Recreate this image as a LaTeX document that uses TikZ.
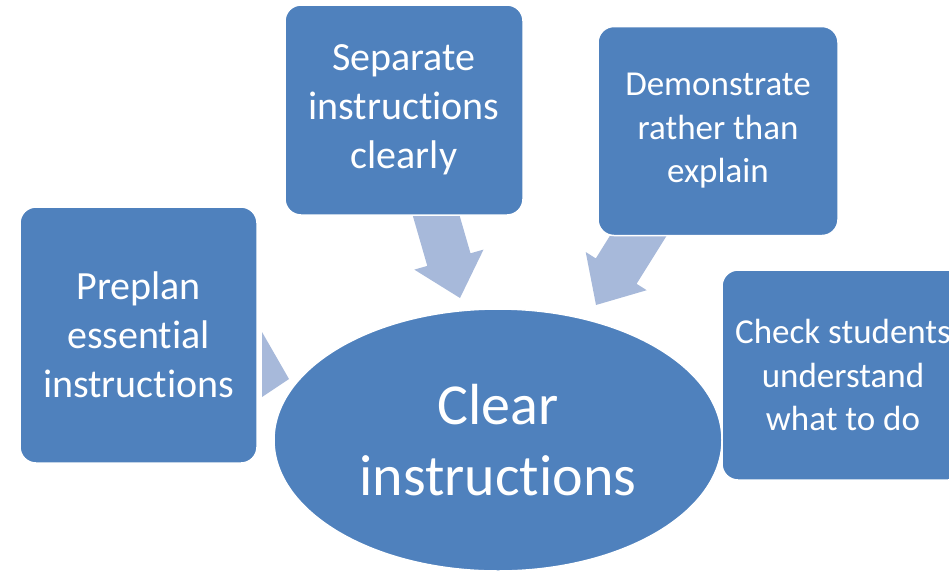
\documentclass[tikz,border=0pt]{standalone}
\usepackage{fontspec}
\setmainfont{Carlito}[Ligatures=NoCommon]
\usepackage{tikz}
\usetikzlibrary{shapes}
\definecolor{boxblue}{RGB}{79,129,189}
\definecolor{arrowblue}{RGB}{167,185,218}
\tikzstyle{task}=[rectangle,rounded corners=16pt,draw=white,line width=1.5pt,fill=boxblue,text=white,align=center,inner sep=0pt,font=\fontsize{40}{49}\selectfont]
\tikzstyle{smalltask}=[task,font=\fontsize{35}{43.5}\selectfont]
\tikzstyle{goal}=[ellipse,draw=white,line width=1.5pt,fill=boxblue,text=white,align=center,inner sep=0pt,font=\fontsize{58}{71}\selectfont]
\tikzstyle{blockarrow}=[fill=arrowblue]

\begin{document}
\begin{tikzpicture}[x=1pt,y=-1pt]
    \useasboundingbox (0,0) rectangle (949,573);
    \clip (0,0) rectangle (949,573);
    % arrows behind the boxes
    \fill[blockarrow] (262,332) -- (289,379) -- (262,397) -- cycle;
    \fill[blockarrow] (453.8,195.6) -- (470.5,253.3) -- (483.5,249.6) -- (460,298)
        -- (414.3,269.6) -- (427.3,265.9) -- (410.6,208.2) -- cycle;
    \fill[blockarrow] (668.4,232.9) -- (636.6,283.8) -- (646.7,290.2) -- (596,305)
        -- (585.7,252.0) -- (595.8,258.4) -- (627.6,207.5) -- cycle;
    \node[goal, minimum width=448pt, minimum height=262pt] at (498,440) (clear) {Clear\\instructions};
    \node[task, minimum width=237pt, minimum height=256pt] at (138.5,335) (preplan) {Preplan\\essential\\instructions};
    \node[task, minimum width=238pt, minimum height=210pt] at (404,110) (separate) {Separate\\instructions\\clearly};
    \node[smalltask, minimum width=240pt, minimum height=209pt] at (718,131) (demo) {Demonstrate\\rather than\\explain};
    \node[smalltask, minimum width=242pt, minimum height=210pt] at (843,375) (check) {Check students\\understand\\what to do};
\end{tikzpicture}
\end{document}
